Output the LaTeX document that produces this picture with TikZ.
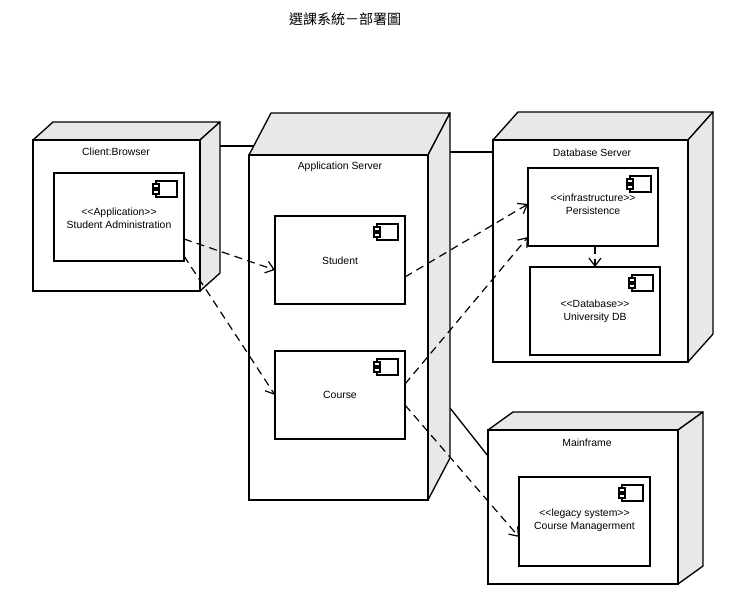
\documentclass[tikz,border=0pt]{standalone}
\usepackage{fontspec}
\setmainfont{Liberation Sans}
\newfontfamily\cjk{Noto Sans CJK TC}
\usetikzlibrary{arrows.meta,calc}
\begin{document}
\begin{tikzpicture}[x=0.75pt,y=-0.75pt,line width=1pt,
  lbl/.style={font=\fontsize{7.8}{9.6}\selectfont,align=center,inner sep=0},
  comp/.style={draw,fill=white,line width=1pt,inner sep=0,outer sep=0},
  dep/.style={draw,dash pattern=on 6pt off 4pt,line width=0.9pt,-{Straight Barb[length=6pt,width=9pt]}},
  side/.style={draw,fill=gray!18,line join=round}]
\useasboundingbox (0,0) rectangle (740,601);
\node[font=\cjk\fontsize{10.5}{12}\selectfont] (title) at (345,19) {選課系統－部署圖};
\newcommand\nodebox[6]{%
  \path[side] (#1,#2) -- ++(#5,-#6) -- (#3+#5,#2-#6) -- (#3,#2) -- cycle;
  \path[side] (#3,#2) -- (#3+#5,#2-#6) -- (#3+#5,#4-#6) -- (#3,#4) -- cycle;
  \draw[fill=white] (#1,#2) rectangle (#3,#4);}
\coordinate (cb) at (220,146); \coordinate (ab) at (258,146);
\coordinate (as) at (450,152); \coordinate (ds) at (493,152);
\coordinate (am) at (450,408); \coordinate (mf) at (488,456);
\draw (cb) -- (ab); \draw (as) -- (ds); \draw (am) -- (mf);
\nodebox{33}{140}{200}{291}{20}{18}
\nodebox{249}{155}{428}{500}{22}{42}
\nodebox{493}{140}{688}{362}{25}{28}
\nodebox{488}{430}{678}{584}{25}{18}
\node[lbl] (l1) at (116,152) {Client:Browser};
\node[lbl] (l2) at (340,167) {Application Server};
\node[lbl] (l3) at (592,153) {Database Server};
\node[lbl] (l4) at (587,443) {Mainframe};
\newcommand\comp[7]{%
  \node[comp,minimum width={(#4-#2)*0.75pt},minimum height={(#5-#3)*0.75pt},anchor=north west] (#1) at (#2,#3) {};
  \node[lbl] (#1t) at ($(#1.center)+(0,#7)$) {#6};
  \draw[line width=0.8pt,fill=white] (#4-28,#3+8) rectangle (#4-7,#3+24);
  \draw[line width=0.8pt,fill=white] (#4-31,#3+11) rectangle (#4-25,#3+15);
  \draw[line width=0.8pt,fill=white] (#4-31,#3+17) rectangle (#4-25,#3+21);}
\comp{sa}{54}{173}{184}{261}{{<}{<}Application{>}{>}\\Student Administration}{1}
\comp{st}{275}{216}{405}{304}{Student}{1}
\comp{co}{275}{351}{405}{439}{Course}{0}
\comp{pe}{528}{168}{658}{246}{{<}{<}infrastructure{>}{>}\\Persistence}{-3}
\comp{ud}{530}{267}{660}{355}{{<}{<}Database{>}{>}\\University DB}{0}
\comp{cm}{519}{477}{650}{566}{{<}{<}legacy system{>}{>}\\Course Managerment}{-1}
\draw[dep] (sa.east |- 0,239) -- (st.west |- 0,270);
\draw[dep] (sa.east |- 0,256) -- (co.west |- 0,395);
\draw[dep] (st.east |- 0,277) -- (pe.west |- 0,204);
\draw[dep] (co.east |- 0,384) -- (pe.west |- 0,237);
\draw[dep] (co.east |- 0,405) -- (cm.west |- 0,537);
\draw[dep] (pe.south -| 595,0) -- (ud.north -| 595,0);
\end{tikzpicture}
\end{document}
